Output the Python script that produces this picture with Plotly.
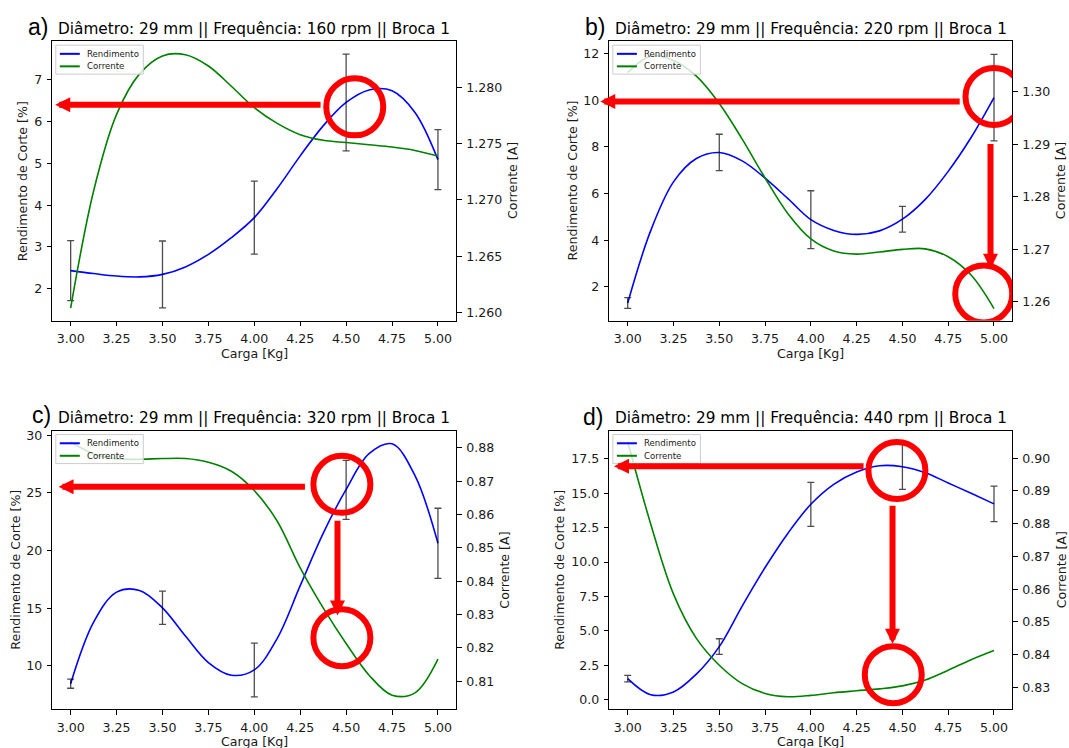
import plotly.graph_objects as go

# ---------------- data ----------------
X_FINE = [3.0, 3.125, 3.25, 3.375, 3.5, 3.625, 3.75, 3.875, 4.0,
          4.125, 4.25, 4.375, 4.5, 4.625, 4.75, 4.875, 5.0]
ERR_X = [3.0, 3.5, 4.0, 4.5, 5.0]

TITLES = [
    "Diâmetro: 29 mm || Frequência: 160 rpm || Broca 1",
    "Diâmetro: 29 mm || Frequência: 220 rpm || Broca 1",
    "Diâmetro: 29 mm || Frequência: 320 rpm || Broca 1",
    "Diâmetro: 29 mm || Frequência: 440 rpm || Broca 1",
]
LETTERS = ["a)", "b)", "c)", "d)"]
LEGEND_NAMES = ["Rendimento", "Corrente"]
X_LABEL = "Carga [Kg]"
Y_LABEL_LEFT = "Rendimento de Corte [%]"
Y_LABEL_RIGHT = "Corrente [A]"

# panel a) 160 rpm
REND_A = [2.43, 2.36, 2.30, 2.28, 2.34, 2.52, 2.82, 3.22, 3.70, 4.40, 5.18, 5.90,
          6.46, 6.76, 6.74, 6.22, 5.09]
CORR_A = [1.2604, 1.2708, 1.2776, 1.2812, 1.2828, 1.2829, 1.2819, 1.2801, 1.2782,
          1.2768, 1.2758, 1.2753, 1.2751, 1.2749, 1.2747, 1.2744, 1.2739]
MEAN_A = [2.43, 2.34, 3.70, 6.46, 5.09]
STD_A = [0.72, 0.80, 0.875, 1.16, 0.72]

# panel b) 220 rpm
REND_B = [1.31, 4.40, 6.50, 7.50, 7.76, 7.40, 6.66, 5.78, 4.88, 4.42, 4.25, 4.40,
          4.90, 5.75, 6.95, 8.40, 10.11]
CORR_B = [1.3037, 1.3068, 1.3060, 1.3030, 1.2978, 1.2910, 1.2836, 1.2768, 1.2720,
          1.2697, 1.2691, 1.2695, 1.2700, 1.2701, 1.2686, 1.2651, 1.2587]
MEAN_B = [1.31, 7.76, 4.88, 4.90, 10.11]
STD_B = [0.23, 0.78, 1.24, 0.55, 1.85]

# panel c) 320 rpm
REND_C = [8.47, 13.8, 16.4, 16.55, 15.04, 12.6, 10.3, 9.2, 9.66, 12.4, 16.96, 21.5,
          25.3, 28.4, 29.25, 26.5, 20.63]
CORR_C = [0.8818, 0.8782, 0.8767, 0.8766, 0.8768, 0.8768, 0.8757, 0.8730, 0.8672,
          0.8580, 0.8440, 0.8320, 0.8213, 0.8118, 0.8058, 0.8065, 0.8166]
MEAN_C = [8.47, 15.04, 9.66, 25.26, 20.63]
STD_C = [0.40, 1.44, 2.33, 2.55, 3.04]

# panel d) 440 rpm
REND_D = [1.52, 0.35, 0.55, 1.85, 3.85, 6.8, 9.6, 12.1, 14.2, 15.65, 16.55, 17.0,
          16.93, 16.5, 15.75, 15.0, 14.23]
CORR_D = [0.9050, 0.8800, 0.8585, 0.8450, 0.8368, 0.8312, 0.8282, 0.8272, 0.8276,
          0.8284, 0.8290, 0.8296, 0.8305, 0.8323, 0.8353, 0.8385, 0.8413]
MEAN_D = [1.52, 3.85, 14.2, 16.93, 14.23]
STD_D = [0.24, 0.57, 1.6, 1.65, 1.29]

REND = [REND_A, REND_B, REND_C, REND_D]
CORR = [CORR_A, CORR_B, CORR_C, CORR_D]
MEANS = [MEAN_A, MEAN_B, MEAN_C, MEAN_D]
STDS = [STD_A, STD_B, STD_C, STD_D]

# axis ranges / ticks
X_RANGE = [2.9, 5.1]
LEFT_RANGES = [[1.23, 7.93], [0.55, 12.53], [6.26, 30.4], [-0.70, 19.56]]
RIGHT_RANGES = [[1.25927, 1.28411], [1.2564, 1.30968], [0.8016, 0.8852], [0.8234, 0.9084]]
LEFT_DTICK = [1, 2, 5, 2.5]
LEFT_FMT = ["d", "d", "d", ".1f"]
RIGHT_DTICK = [0.005, 0.01, 0.01, 0.01]
RIGHT_FMT = [".3f", ".2f", ".2f", ".2f"]

# red highlight annotations (data coordinates of each panel's left axis)
RED_ARROWS = [
    [(2.916, 6.403, 4.369, 6.403)],
    [(2.850, 9.94, 4.821, 9.94), (4.981, 2.78, 4.981, 8.19)],
    [(2.934, 25.54, 4.284, 25.54), (4.453, 14.38, 4.453, 22.72)],
    [(2.925, 16.97, 4.296, 16.97), (4.446, 4.056, 4.446, 14.20)],
]
RED_CIRCLES = [
    [(4.547, 6.355)],
    [(5.0, 10.16), (4.944, 1.70)],
    [(4.477, 25.74), (4.477, 12.45)],
    [(4.470, 16.66), (4.450, 1.81)],
]

# ---------------- layout geometry (pixels) ----------------
W, H = 1069, 748
PANEL_BOX = [(52.3, 456.3, 38.3, 319.0), (609.4, 1012.3, 38.3, 319.0),
             (52.3, 456.3, 429.3, 709.0), (609.4, 1012.3, 429.3, 709.0)]
LETTER_POS = [(26.0, 24.2), (582.6, 24.5), (29.6, 413.8), (581.0, 415.5)]
TITLE_Y = [25.7, 25.7, 416.7, 416.7]
YL_LEFT_X = [23.2, 572.5, 15.8, 560.0]
YL_RIGHT_X = [513.0, 1061.2, 504.8, 1061.5]
XL_Y = [351.7, 351.7, 741.7, 741.7]

BLUE = "#0000ff"
GREEN = "#008000"
RED = "#ff0000"
FONT = "DejaVu Sans"
TICK_SIZE = 12.6


def px(v):
    return v / W


def py(v):
    return 1 - v / H


fig = go.Figure()
layout = dict(
    width=W, height=H,
    margin=dict(l=0, r=0, t=0, b=0),
    paper_bgcolor="white", plot_bgcolor="white",
    showlegend=False,
    font=dict(family=FONT, size=TICK_SIZE, color="#000000"),
)
annotations = []
shapes = []

for i in range(4):
    n = i + 1
    xa = "x" if n == 1 else f"x{n}"
    yl = "y" if n == 1 else f"y{2 * n - 1}"
    yr = f"y{2 * n}"
    xkey = "xaxis" if n == 1 else f"xaxis{n}"
    ylkey = "yaxis" if n == 1 else f"yaxis{2 * n - 1}"
    yrkey = f"yaxis{2 * n}"
    x0, x1, y0, y1 = PANEL_BOX[i]

    fig.add_trace(go.Scatter(x=X_FINE, y=REND[i], mode="lines", name=LEGEND_NAMES[0],
                             line=dict(color=BLUE, width=1.6, shape="spline", smoothing=1.0),
                             xaxis=xa, yaxis=yl))
    fig.add_trace(go.Scatter(x=ERR_X, y=MEANS[i], mode="markers", name="erro",
                             marker=dict(size=1, opacity=0),
                             error_y=dict(type="data", array=STDS[i], visible=True,
                                          color="rgba(0,0,0,0.7)", thickness=1.3, width=3.5),
                             xaxis=xa, yaxis=yl))
    fig.add_trace(go.Scatter(x=X_FINE, y=CORR[i], mode="lines", name=LEGEND_NAMES[1],
                             line=dict(color=GREEN, width=1.6, shape="spline", smoothing=1.0),
                             xaxis=xa, yaxis=yr))

    common = dict(showline=True, linecolor="#000000", linewidth=1, ticks="outside",
                  ticklen=4.5, tickwidth=1, tickcolor="#000000", showgrid=False,
                  zeroline=False, tickfont=dict(family=FONT, size=TICK_SIZE, color="#1a1a1a"))
    layout[xkey] = dict(domain=[px(x0), px(x1)], range=X_RANGE, anchor=yl, mirror=True,
                        tickmode="linear", tick0=3.0, dtick=0.25, tickformat=".2f",
                        ticklabelstandoff=2, **common)
    layout[ylkey] = dict(domain=[py(y1), py(y0)], range=LEFT_RANGES[i], anchor=xa,
                         tickmode="linear", tick0=0, dtick=LEFT_DTICK[i],
                         tickformat=LEFT_FMT[i], ticklabelstandoff=2, **common)
    layout[yrkey] = dict(range=RIGHT_RANGES[i], anchor=xa, overlaying=yl, side="right",
                         tickmode="linear", tick0=0, dtick=RIGHT_DTICK[i],
                         tickformat=RIGHT_FMT[i], ticklabelstandoff=2, **common)

    # titles
    annotations.append(dict(text=TITLES[i], xref="paper", yref="paper",
                            x=px((x0 + x1) / 2), y=py(TITLE_Y[i]), xanchor="center",
                            yanchor="middle", showarrow=False,
                            font=dict(family=FONT, size=15.3, color="#000000")))
    lx, ly = LETTER_POS[i]
    annotations.append(dict(text=LETTERS[i], xref="paper", yref="paper",
                            x=px(lx), y=py(ly), xanchor="left", yanchor="middle",
                            showarrow=False,
                            font=dict(family="Liberation Sans", size=23, color="#000000")))
    # axis titles
    annotations.append(dict(text=X_LABEL, xref="paper", yref="paper",
                            x=px((x0 + x1) / 2), y=py(XL_Y[i]), xanchor="center",
                            yanchor="middle", showarrow=False,
                            font=dict(family=FONT, size=TICK_SIZE, color="#1a1a1a")))
    annotations.append(dict(text=Y_LABEL_LEFT, xref="paper", yref="paper", textangle=-90,
                            x=px(YL_LEFT_X[i]), y=py((y0 + y1) / 2), xanchor="center",
                            yanchor="middle", showarrow=False,
                            font=dict(family=FONT, size=TICK_SIZE, color="#1a1a1a")))
    annotations.append(dict(text=Y_LABEL_RIGHT, xref="paper", yref="paper", textangle=-90,
                            x=px(YL_RIGHT_X[i]), y=py((y0 + y1) / 2), xanchor="center",
                            yanchor="middle", showarrow=False,
                            font=dict(family=FONT, size=TICK_SIZE, color="#1a1a1a")))

    # legend (drawn inside the upper-left corner of each panel)
    dx = f"{xa} domain"
    dy = f"{yl} domain"
    shapes.append(dict(type="rect", xref=dx, yref=dy, xsizemode="pixel", ysizemode="pixel",
                       xanchor=0, yanchor=1, x0=3.5, x1=91, y0=-4, y1=-33,
                       fillcolor="rgba(255,255,255,0.8)", line=dict(color="#cccccc", width=1),
                       layer="above"))
    for k, (col, off) in enumerate([(BLUE, -12.7), (GREEN, -25.2)]):
        shapes.append(dict(type="line", xref=dx, yref=dy, xsizemode="pixel",
                           ysizemode="pixel", xanchor=0, yanchor=1, x0=7.5, x1=27.5,
                           y0=off, y1=off, line=dict(color=col, width=2), layer="above"))
        annotations.append(dict(text=LEGEND_NAMES[k], xref=dx, yref=dy, x=0, y=1,
                                xshift=33, yshift=off, xanchor="left", yanchor="middle",
                                showarrow=False,
                                font=dict(family=FONT, size=8.6, color="#1a1a1a")))

    # red highlights
    for (tx, ty, sx, sy) in RED_ARROWS[i]:
        annotations.append(dict(text="", x=tx, y=ty, ax=sx, ay=sy, xref=xa, yref=yl,
                                axref=xa, ayref=yl, showarrow=True, arrowhead=2,
                                arrowsize=0.5, arrowwidth=6, arrowcolor=RED,
                                standoff=0, startstandoff=0))
    for (cx, cy) in RED_CIRCLES[i]:
        shapes.append(dict(type="circle", xref=xa, yref=yl, xsizemode="pixel",
                           ysizemode="pixel", xanchor=cx, yanchor=cy, x0=-28.5, x1=28.5,
                           y0=-28.5, y1=28.5, line=dict(color=RED, width=6),
                           fillcolor="rgba(0,0,0,0)", layer="above"))

layout["annotations"] = annotations
layout["shapes"] = shapes
fig.update_layout(**layout)
fig.write_html(
    "out.html",
    config={"displayModeBar": False, "staticPlot": True},
    post_script="document.body.style.margin='0';document.body.style.overflow='hidden';",
)
